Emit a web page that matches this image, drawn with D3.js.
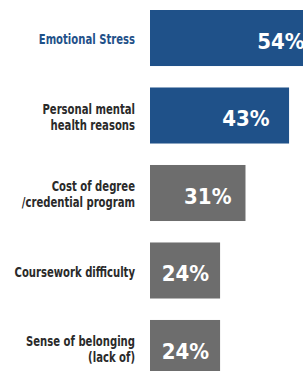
<!DOCTYPE html>
<html><head><meta charset="utf-8">
<script src="https://cdn.jsdelivr.net/npm/d3@7"></script>
<style>
html,body{margin:0;padding:0;background:#fff;overflow:hidden;}
text{font-family:"DejaVu Sans","Liberation Sans Narrow",sans-serif;font-stretch:condensed;font-weight:bold;}
</style></head>
<body>
<svg id="c" width="303" height="371"></svg>
<script>
const categories = [
  ["Emotional Stress"],
  ["Personal mental","health reasons"],
  ["Cost of degree","/credential program"],
  ["Coursework difficulty"],
  ["Sense of belonging","(lack of)"]
];
const values = [54, 43, 31, 24, 24];
const valueLabels = ["54%", "43%", "31%", "24%", "24%"];
const highlight = [true, true, false, false, false];

const svg = d3.select("#c");
const ids = d3.range(values.length);
const y = d3.scaleBand().domain(ids).range([10, 376]).paddingInner(0.277).paddingOuter(0);
const x = d3.scaleLinear().domain([4.7, 54]).range([150, 329]);
const lx = d3.scaleLinear().domain([24, 54]).range([185.5, 281]);
const blue = "#1f5189", gray = "#6d6d6d";

svg.selectAll("rect.bar").data(ids).join("rect")
  .attr("class","bar")
  .attr("x", x(4.7))
  .attr("y", i => y(i))
  .attr("width", i => x(values[i]) - x(4.7))
  .attr("height", y.bandwidth())
  .attr("fill", i => highlight[i] ? blue : gray);

svg.selectAll("text.val").data(ids).join("text")
  .attr("class","val")
  .attr("x", i => lx(values[i]))
  .attr("y", i => y(i) + y.bandwidth()/2)
  .attr("dy", "0.48em")
  .attr("text-anchor","middle")
  .attr("fill","#fff")
  .attr("font-size", 22)
  .text(i => valueLabels[i]);

const lh = 16;
const labels = svg.append("g").attr("transform","translate(135,0) scale(0.83,1)");
const g = labels.selectAll("text.cat").data(ids).join("text")
  .attr("class","cat")
  .attr("text-anchor","end")
  .attr("font-size", 13.5)
  .attr("fill", i => i === 0 ? blue : "#2a2a2a");
g.each(function(i){
  const lines = categories[i];
  const cy = y(i) + y.bandwidth()/2 + 1.5;
  const t = d3.select(this);
  lines.forEach((l, k) => {
    t.append("tspan").attr("x", 0)
      .attr("y", cy + (k - (lines.length-1)/2) * lh)
      .attr("dy","0.35em")
      .text(l);
  });
});
</script>
</body></html>
